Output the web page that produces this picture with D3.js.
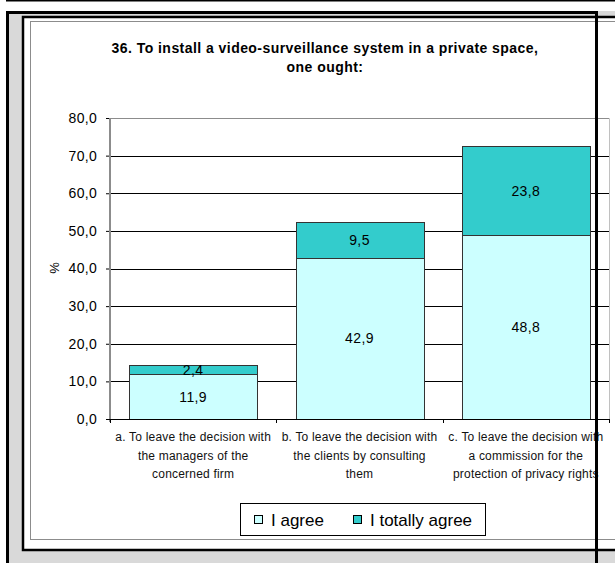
<!DOCTYPE html>
<html>
<head>
<meta charset="utf-8">
<style>
    body { margin: 0; background: #fff; }
    svg { display: block; font-family: 'Liberation Sans', Arial, sans-serif; }
    .title { font-size: 14px; font-weight: bold; letter-spacing: 0.45px; }
    .y .tick text { font-size: 14px; fill: #000; letter-spacing: 0.3px; }
    .cat { font-size: 12px; fill: #111; letter-spacing: 0.2px; }
    .val { font-size: 14px; fill: #000; letter-spacing: 0.4px; }
    .leg { font-size: 17px; fill: #000; }
</style>
</head>
<body>
<svg width="615" height="563"></svg>
<script src="https://d3js.org/d3.v7.min.js"></script>
<script>
    let categories = ["a", "b", "c"]
    let catLabels = [
        ["a. To leave the decision with", "the managers of the", "concerned firm"],
        ["b. To leave the decision with", "the clients by consulting", "them"],
        ["c. To leave the decision with", "a commission for the", "protection of privacy rights"]
    ]
    let agree = [11.9, 42.9, 48.8]
    let totallyAgree = [2.4, 9.5, 23.8]
    let seriesNames = ["I agree", "I totally agree"]
    let seriesColors = ["#ccffff", "#33cccc"]
    let yTicks = [0, 10, 20, 30, 40, 50, 60, 70, 80]

    let svg = d3.select("svg")

    // frames round the chart (screenshot of a spreadsheet)
    svg.append("rect").attr("x", 6).attr("y", 11).attr("width", 609).attr("height", 552).attr("fill", "#d9d9d9")
    svg.append("line").attr("x1", 6).attr("x2", 615).attr("y1", 0.5).attr("y2", 0.5).attr("stroke", "#000").attr("stroke-width", 2)
    svg.append("rect").attr("x", 23).attr("y", 17).attr("width", 600).attr("height", 533)
        .attr("fill", "#fff").attr("stroke", "#000").attr("stroke-width", 2.5)
    svg.append("rect").attr("x", 30.5).attr("y", 21.5).attr("width", 600).attr("height", 518)
        .attr("fill", "#fff").attr("stroke", "#8c8c8c").attr("stroke-width", 1)
    svg.append("path").attr("d", "M7.5,563V12.5H596.5V563").attr("fill", "none").attr("stroke", "#000").attr("stroke-width", 3)

    let margin = { top: 118, left: 110, right: 609, bottom: 419 }

    let x = d3.scaleBand()
        .domain(categories)
        .range([margin.left, margin.right])
        .paddingInner(0.232)
        .paddingOuter(0.116)

    let y = d3.scaleLinear()
        .domain([0, 80])
        .range([margin.bottom, margin.top])

    // title
    let title = svg.append("text").attr("class", "title").attr("text-anchor", "middle")
    title.append("tspan").attr("x", 325).attr("y", 53).text("36. To install a video-surveillance system in a private space,")
    title.append("tspan").attr("x", 325).attr("y", 72).text("one ought:")

    // plot area border (top / right)
    svg.append("path")
        .attr("d", `M${margin.left},${y(80) + 0.5}H${margin.right + 0.5}V${margin.bottom}`)
        .attr("fill", "none").attr("stroke", "#c0c0c0")
    svg.append("line")
        .attr("x1", margin.left).attr("x2", margin.right)
        .attr("y1", y(80) + 0.5).attr("y2", y(80) + 0.5)
        .attr("stroke", "#8c8c8c")

    // gridlines
    svg.append("g")
        .selectAll("line")
        .data(yTicks.filter(d => d > 0 && d < 80))
        .join("line")
        .attr("x1", margin.left).attr("x2", margin.right)
        .attr("y1", d => Math.round(y(d)) + 0.5).attr("y2", d => Math.round(y(d)) + 0.5)
        .attr("stroke", "#000")

    // bars
    let stacked = d3.stack().keys([0, 1]).value((d, k) => d[k])(
        categories.map((c, i) => { let o = [agree[i], totallyAgree[i]]; o.cat = c; return o })
    )

    let layers = svg.append("g")
        .selectAll("g")
        .data(stacked)
        .join("g")
        .attr("fill", (d, i) => seriesColors[i])

    layers.selectAll("rect")
        .data(d => d)
        .join("rect")
        .attr("x", d => Math.round(x(d.data.cat)) + 0.5)
        .attr("width", Math.round(x.bandwidth()))
        .attr("y", d => Math.round(y(d[1])) + 0.5)
        .attr("height", d => Math.round(y(d[0])) - Math.round(y(d[1])))
        .attr("stroke", "#333")
        .attr("stroke-width", 1)

    // value labels
    layers.selectAll("text")
        .data(d => d)
        .join("text")
        .attr("class", "val")
        .attr("text-anchor", "middle")
        .attr("x", d => x(d.data.cat) + x.bandwidth() / 2)
        .attr("y", d => (y(d[0]) + y(d[1])) / 2 + 5)
        .attr("fill", "#000")
        .text(d => d3.format(".1f")(d[1] - d[0]).replace(".", ","))

    // y axis
    let yAxis = svg.append("g")
        .attr("class", "y axis")
        .attr("transform", `translate(${margin.left},0)`)
        .call(d3.axisLeft(y).tickValues(yTicks).tickSize(4).tickPadding(9)
            .tickFormat(d => d3.format(".1f")(d).replace(".", ",")))
    yAxis.select(".domain").remove()
    yAxis.selectAll(".tick line").attr("stroke", "#000")
    svg.append("line")
        .attr("x1", margin.left).attr("x2", margin.left)
        .attr("y1", margin.top).attr("y2", margin.bottom + 3)
        .attr("stroke", "#8c8c8c").attr("stroke-width", 2)

    // x axis
    svg.append("line")
        .attr("x1", margin.left - 4).attr("x2", margin.right)
        .attr("y1", margin.bottom + 0.5).attr("y2", margin.bottom + 0.5)
        .attr("stroke", "#000")
    let step = x.step()
    svg.append("g")
        .selectAll("line")
        .data(d3.range(categories.length + 1))
        .join("line")
        .attr("x1", i => Math.round(margin.left + i * step) + 0.5)
        .attr("x2", i => Math.round(margin.left + i * step) + 0.5)
        .attr("y1", margin.bottom).attr("y2", margin.bottom + 4)
        .attr("stroke", "#000")

    // category labels
    svg.append("g")
        .selectAll("text")
        .data(categories)
        .join("text")
        .attr("class", "cat")
        .attr("text-anchor", "middle")
        .each(function (d, i) {
            let t = d3.select(this)
            catLabels[i].forEach((line, j) => {
                t.append("tspan")
                    .attr("x", x(d) + x.bandwidth() / 2)
                    .attr("y", 441 + j * 18.5)
                    .text(line)
            })
        })

    // y label
    svg.append("text")
        .attr("transform", "translate(59,268) rotate(-90)")
        .attr("text-anchor", "middle")
        .attr("font-size", 13)
        .text("%")

    // legend
    let legend = svg.append("g")
    legend.append("rect").attr("x", 240.5).attr("y", 503.5).attr("width", 245).attr("height", 32)
        .attr("fill", "#fff").attr("stroke", "#000")
    let legX = [254, 353]
    seriesNames.forEach((name, i) => {
        legend.append("rect").attr("x", legX[i] + 0.5).attr("y", 515.5).attr("width", 8).attr("height", 8)
            .attr("fill", seriesColors[i]).attr("stroke", "#000")
        legend.append("text").attr("class", "leg").attr("x", legX[i] + 17).attr("y", 526).text(name)
    })

    // black vertical bar drawn over the chart
    svg.append("line").attr("x1", 596.5).attr("x2", 596.5).attr("y1", 11).attr("y2", 563)
        .attr("stroke", "#000").attr("stroke-width", 3)
</script>
</body>
</html>
